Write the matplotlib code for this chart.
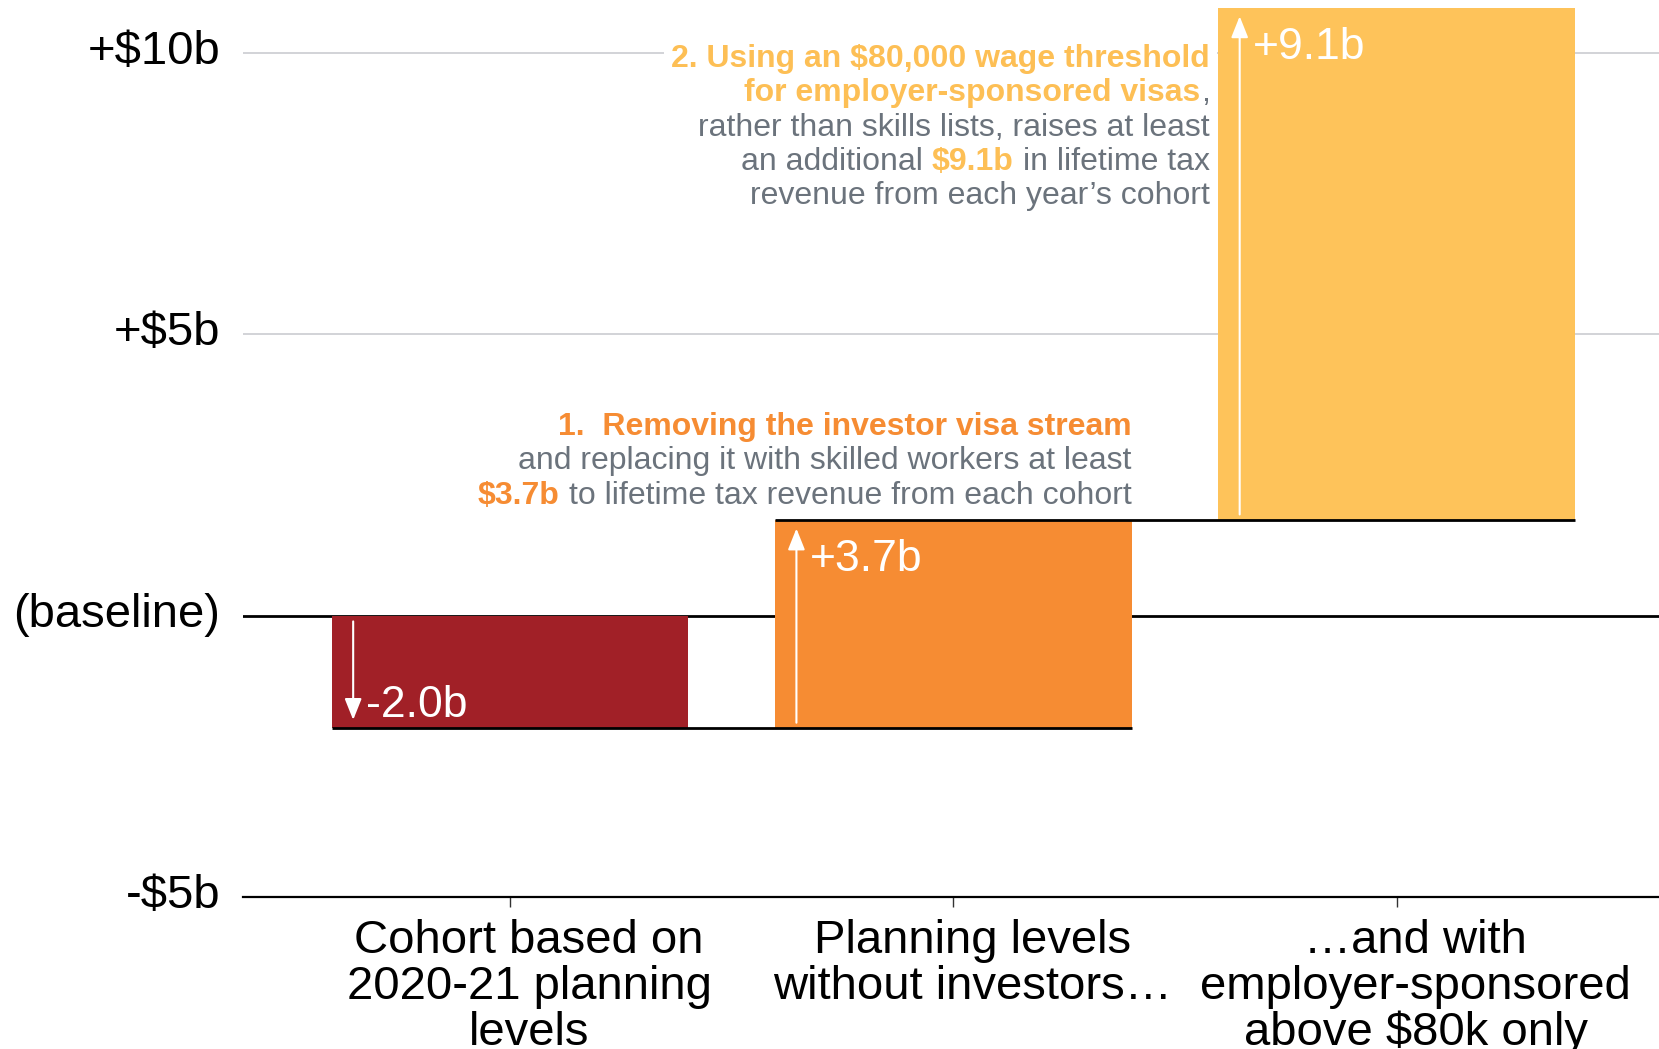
import numpy as np
import matplotlib.pyplot as plt
import matplotlib.transforms as mtransforms

plt.rcParams['font.family'] = ['Liberation Sans', 'DejaVu Sans']
plt.rcParams['text.parse_math'] = False

categories = ["Cohort based on\n2020-21 planning\nlevels",
              "Planning levels\nwithout investors…",
              "…and with\nemployer-sponsored\nabove $80k only"]
changes = [-2.0, 3.7, 9.1]
bar_colors = ['#A12027', '#F68C33', '#FEC35A']
y_ticks = [-5, 0, 5, 10]
y_tick_labels = ['-$5b', '(baseline)', '+$5b', '+$10b']

GRAY_TEXT = '#6B737C'
ORANGE = '#F68C33'
YELLOW = '#FDBF55'

x = np.arange(len(changes))
ends = np.cumsum(changes)
starts = ends - np.array(changes)
WIDTH = 0.804

fig = plt.figure(figsize=(16.59, 10.49), dpi=100)
ax = fig.add_axes([0.1467, 0.1447, 0.8533, 0.8553])
ax.set_xlim(-0.6017, 2.592)
ax.set_ylim(-5, 10.94)

# light gridlines, black baseline underneath the bars
for g in [5, 10]:
    ax.axhline(g, color='#CBCCD1', lw=1.2, zorder=0)
ax.axhline(0, color='black', lw=2, zorder=1)

ax.bar(x, changes, bottom=starts, width=WIDTH, color=bar_colors, zorder=2)

# connector lines between consecutive steps
for i in range(len(changes) - 1):
    ax.hlines(ends[i], x[i] - WIDTH / 2, x[i + 1] + WIDTH / 2,
              color='black', lw=2, zorder=3)

# white arrow + value label inside each bar
for xi, s, e, v in zip(x, starts, ends, changes):
    sgn = np.sign(v)
    arr_x = xi - WIDTH / 2 + 0.048
    ax.annotate('', xy=(arr_x, e - sgn * 0.15), xytext=(arr_x, s + sgn * 0.1),
                arrowprops=dict(arrowstyle='-|>,head_length=0.5,head_width=0.2',
                                color='white', lw=1.5, mutation_scale=26,
                                shrinkA=0, shrinkB=0),
                zorder=4)
    off = 0.4 if v < 0 else 0.7
    ax.text(arr_x + 0.03, e - sgn * off, f'{v:+.1f}b', color='white',
            fontsize=32, ha='left', va='center', zorder=4)

for side in ['top', 'right', 'left']:
    ax.spines[side].set_visible(False)
ax.spines['bottom'].set_linewidth(1.6)
ax.spines['bottom'].set_color('black')

ax.set_xticks(x)
ax.set_xticklabels([])
ax.tick_params(axis='x', length=7.5, width=1, color='#333333')
ax.set_yticks(y_ticks, y_tick_labels)
ax.tick_params(axis='y', length=0, pad=16.5, labelsize=34)
lift = mtransforms.ScaledTranslation(0, 6 / 100, fig.dpi_scale_trans)
for lab in ax.get_yticklabels():
    lab.set_transform(lab.get_transform() + lift)

for xi, lab in zip(x, categories):
    ax.text(xi + 0.043, -5.39, lab, ha='center', va='top', fontsize=34,
            linespacing=1.05, multialignment='center')

renderer = fig.canvas.get_renderer()


def rich_line(x0, y0, down_pt, segments, size=23, first_bg=False):
    """Right-aligned line built from differently styled pieces."""
    space = 0.278 * size
    shift = 0.0
    for txt, color, weight in reversed(segments):
        if txt.endswith(' '):
            shift += space
        tr = mtransforms.offset_copy(ax.transData, fig=fig, x=-shift,
                                     y=-down_pt, units='points')
        kw = {}
        if first_bg:
            kw['bbox'] = dict(facecolor='white', edgecolor='none', pad=5)
        t = ax.text(x0, y0, txt.strip(), transform=tr, ha='right',
                    va='baseline', color=color, fontweight=weight,
                    fontsize=size, zorder=5, **kw)
        shift += t.get_window_extent(renderer).width * 72 / fig.dpi
        if txt.startswith(' '):
            shift += space


LINE_PT = 24.8

note_two = [
    [("2. Using an $80,000 wage threshold", YELLOW, 'bold')],
    [("for employer-sponsored visas", YELLOW, 'bold'), (",", GRAY_TEXT, 'normal')],
    [("rather than skills lists, raises at least", GRAY_TEXT, 'normal')],
    [("an additional ", GRAY_TEXT, 'normal'), (f"${changes[2]:.1f}b", YELLOW, 'bold'),
     (" in lifetime tax", GRAY_TEXT, 'normal')],
    [("revenue from each year’s cohort", GRAY_TEXT, 'normal')],
]
note_one = [
    [("1.  Removing the investor visa stream", ORANGE, 'bold')],
    [("and replacing it with skilled workers at least", GRAY_TEXT, 'normal')],
    [(f"${changes[1]:.1f}b", ORANGE, 'bold'),
     (" to lifetime tax revenue from each cohort", GRAY_TEXT, 'normal')],
]

for k, segs in enumerate(note_two):
    rich_line(x[2] - WIDTH / 2 - 0.02, 9.756, k * LINE_PT, segs, first_bg=(k == 0))
for k, segs in enumerate(note_one):
    rich_line(x[1] + WIDTH / 2, 3.216, k * LINE_PT, segs)

fig.savefig('out.png', dpi=100)
